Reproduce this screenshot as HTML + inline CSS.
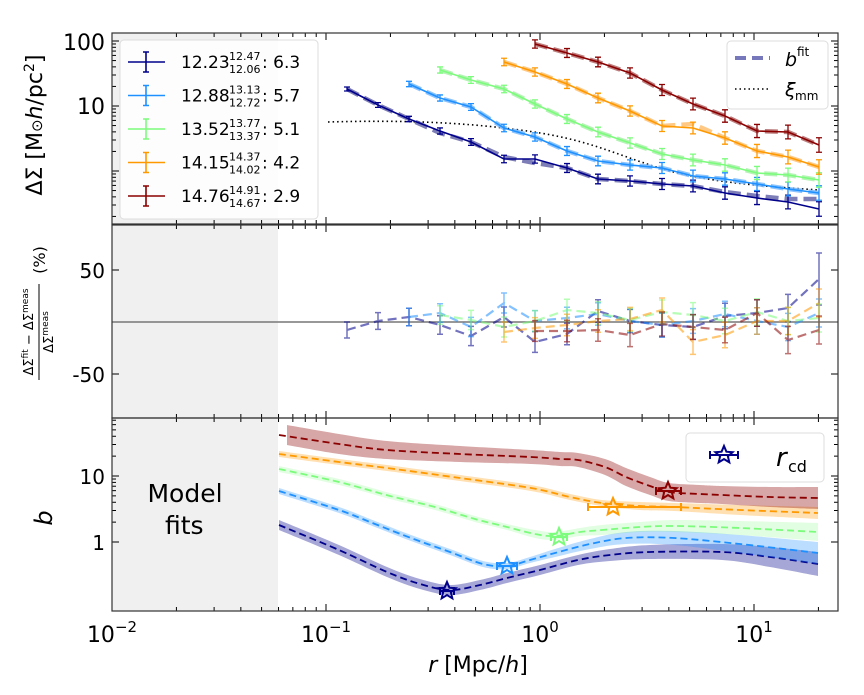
<!DOCTYPE html>
<html><head><meta charset="utf-8"><style>
body{margin:0;background:#fff}
svg{display:block;font-family:"DejaVu Sans","Liberation Sans",sans-serif}
</style></head><body>
<svg id="s" width="864" height="695" xmlns="http://www.w3.org/2000/svg"></svg>
<script>
(function(){
const s=document.getElementById('s');
let h='';
const L=112,R=838;
const X=r=>112+214*(Math.log10(r)+2);
const P=[[33,224],[225,418],[418,611]];
P.forEach(p=>{h+=`<rect x="${L}" y="${p[0]}" width="${278-L}" height="${p[1]-p[0]}" fill="#f0f0f0"/>`;});
function xticks(t,b){
 for(let d=-2;d<=1;d++)for(let m=1;m<10;m++){const x=X(m*Math.pow(10,d));if(x>R)continue;const len=m==1?7:4;
 h+=`<line x1="${x}" y1="${b}" x2="${x}" y2="${b-len}" stroke="#000" stroke-width="1"/><line x1="${x}" y1="${t}" x2="${x}" y2="${t+len}" stroke="#000" stroke-width="1"/>`;}
}
P.forEach(p=>xticks(p[0],p[1]));
const Y1=v=>106-65*(Math.log10(v)-1);
const Y3=v=>476-66*Math.log10(v);
function yt(y,len){h+=`<line x1="${L}" y1="${y}" x2="${L+len}" y2="${y}" stroke="#000"/><line x1="${R}" y1="${y}" x2="${R-len}" y2="${y}" stroke="#000"/>`;}
for(let d=-1;d<=2;d++)for(let m=1;m<10;m++){const v=m*Math.pow(10,d);let y=Y1(v);if(y>33&&y<224)yt(y,m==1?7:4);y=Y3(v);if(y>418&&y<611)yt(y,m==1?7:4);}
[270,374].forEach(y=>yt(y,7));
h+=`<line x1="${L}" y1="322" x2="${R}" y2="322" stroke="#777" stroke-width="1.5"/>`;
const cols=['#00008b','#1e90ff','#7cfc7c','#ff9900','#8b0000'];
const fcols=['#6666aa','#77b8ff','#a8f0a8','#ffbf70','#b06666'];
const xs=[347,378,409,440,471,504,535,567,598,630,662,693,725,757,788,819];
const topd=[
 [89,105,119,131,142,159,159,168,179,181,184,186,193,198,202,209],
 [null,null,84,98,107,128,137,151,161,165,168,176,179,184,189,193],
 [null,null,null,70,80,89,104,119,132,143,154,160,165,173,175,180],
 [null,null,null,null,null,62,72,84,98,111,126,128,138,151,157,167],
 [null,null,null,null,null,null,44,53,62,73,90,104,116,131,132,145]];
const fitadj=[[0,0,0,2,0,-2,4,0,0,0,0,0,-1,-2,-3,-10],[],[],[0,0,0,0,0,0,0,0,0,0,0,-4],[]];
h=`<defs><clipPath id="c1"><rect x="${L}" y="33" width="${R-L}" height="191"/></clipPath></defs>`+h;
h+=`<path d="M328,122 C400,120 460,122 520,130 S600,148 650,165 S760,186 819,190" fill="none" stroke="#000" stroke-width="1.6" stroke-dasharray="1.5,3" clip-path="url(#c1)"/>`;
topd.forEach((a,i)=>{let pf=[],pd=[];a.forEach((y,j)=>{if(y==null)return;pd.push(xs[j]+','+y);pf.push(xs[j]+','+(y+(fitadj[i][j]||0)));});
 h+=`<polyline points="${pf.join(' ')}" fill="none" stroke="${fcols[i]}" stroke-width="4.5" stroke-dasharray="13,6" opacity="0.85"/>`;
 h+=`<polyline points="${pd.join(' ')}" fill="none" stroke="${cols[i]}" stroke-width="1.6"/>`;
 a.forEach((y,j)=>{if(y==null)return;const e=2+j*0.35;h+=`<path d="M${xs[j]},${y-e}V${y+e}M${xs[j]-3},${y-e}h6M${xs[j]-3},${y+e}h6" stroke="${cols[i]}" stroke-width="1.3"/>`;});
});
const res=[
 [330,321,317,325,336,317,342,334,311,321,325,327,316,313,308,279],
 [null,null,317,313,327,303,321,318,314,321,325,321,314,321,327,313],
 [null,null,null,315,320,327,321,310,313,320,312,315,321,312,321,318],
 [null,null,null,null,null,332,328,325,321,319,310,342,335,321,321,303],
 [null,null,null,null,null,null,331,331,330,335,324,327,330,313,340,330]];
res.forEach((a,i)=>{let p=[];a.forEach((y,j)=>{if(y==null)return;p.push(xs[j]+','+y);});
 h+=`<g opacity="0.55"><polyline points="${p.join(' ')}" fill="none" stroke="${cols[i]}" stroke-width="2.2" stroke-dasharray="9,5"/>`;
 a.forEach((y,j)=>{if(y==null)return;const e=(j==15&&i==0)?26:(8+j*0.4);h+=`<path d="M${xs[j]},${y-e}V${y+e}M${xs[j]-3},${y-e}h6M${xs[j]-3},${y+e}h6" stroke="${cols[i]}" stroke-width="1.5"/>`;});
 h+='</g>';});
const c3=[
 {p:[[279,525],[339,550],[387,572],[420,584],[450,590],[480,585],[507,578],[540,570],[578,560],[610,555],[650,552],[722,552],[770,557],[818,564]],w:[5,5,5,5,5,5,5,5,5,6,7,8,10,12]},
 {p:[[279,491],[339,510],[375,524],[411,538],[450,552],[483,564],[507,566],[530,560],[555,553],[590,544],[626,538],[674,538],[740,544],[818,553]],w:[3,3,3,3,3,3,3,3,4,5,6,7,9,11]},
 {p:[[279,469],[339,482],[390,496],[435,507],[475,519],[507,527],[535,534],[555,536],[580,532],[602,530],[640,527],[674,526],[740,528],[818,532]],w:[3,3,3,3,3,3,4,4,4,5,5,6,7,9]},
 {p:[[279,454],[339,462],[387,468],[460,478],[531,488],[570,497],[602,503],[640,506],[674,507],[740,510],[818,513]],w:[3,3,3,3,3,3,3,4,4,5,6]},
 {p:[[279,435],[339,444],[387,450],[460,454],[531,457],[560,459],[578,460],[605,467],[626,477],[650,486],[669,492],[700,494],[722,495],[770,497],[818,498]],w:[10,10,9,8,7,7,7,8,9,9,9,9,9,10,11]}];
function segs(pts){let d='';for(let i=1;i<pts.length;i++){const p0=pts[i-2]||pts[i-1],p1=pts[i-1],p2=pts[i],p3=pts[i+1]||p2;
 d+=` C${p1[0]+(p2[0]-p0[0])/6},${p1[1]+(p2[1]-p0[1])/6} ${p2[0]-(p3[0]-p1[0])/6},${p2[1]-(p3[1]-p1[1])/6} ${p2[0]},${p2[1]}`;}return d;}
function smooth(pts){return 'M'+pts[0][0]+','+pts[0][1]+segs(pts);}
const op=[0.35,0.3,0.22,0.3,0.35];
c3.forEach((c,i)=>{const off=(k)=>(i==4&&k==0?8:0);
 const up=c.p.map((q,k)=>[q[0]+off(k),q[1]-c.w[k]]),dn=c.p.map((q,k)=>[q[0]+off(k),q[1]+c.w[k]]).reverse();
 const d=smooth(up)+' L'+dn[0][0]+','+dn[0][1]+segs(dn)+' Z';
 h+=`<path d="${d}" fill="${cols[i]}" opacity="${op[i]}"/>`;
 h+=`<path d="${smooth(c.p)}" fill="none" stroke="${cols[i]}" stroke-width="1.8" stroke-dasharray="7,4"/>`;});
function star(cx,cy,r,col){let p=[];for(let k=0;k<10;k++){const a=-Math.PI/2+k*Math.PI/5,rr=k%2?r*0.45:r;p.push((cx+rr*Math.cos(a)).toFixed(1)+','+(cy+rr*Math.sin(a)).toFixed(1));}
 return `<polygon points="${p.join(' ')}" fill="none" stroke="${col}" stroke-width="2"/>`;}
const stars=[[447,591,440,454],[507,566,497,517],[559,537,551,567],[613,507,588,681],[668,491,656,681]];
stars.forEach((q,i)=>{h+=`<path d="M${q[2]},${q[1]}H${q[3]}M${q[2]},${q[1]-4}v8M${q[3]},${q[1]-4}v8" stroke="${cols[i]}" stroke-width="2"/>`+star(q[0],q[1],9,cols[i]);});
P.forEach(p=>{h+=`<rect x="${L}" y="${p[0]}" width="${R-L}" height="${p[1]-p[0]}" fill="none" stroke="#333" stroke-width="1.2"/>`;});
h+=`<rect x="120" y="40" width="198" height="179" rx="4" fill="#fff" fill-opacity="0.85" stroke="#ddd"/>`;
const lab=[['12.23','12.47','12.06','6.3'],['12.88','13.13','12.72','5.7'],['13.52','13.77','13.37','5.1'],['14.15','14.37','14.02','4.2'],['14.76','14.91','14.67','2.9']];
lab.forEach((l,i)=>{const y=62+i*33.5;h+=`<path d="M128,${y}H165M146,${y-10}V${y+10}M143,${y-10}h6M143,${y+10}h6" stroke="${cols[i]}" stroke-width="1.6"/>`;
 h+=`<text x="181" y="${y+6}" font-size="17">${l[0]}</text><text x="229" y="${y-2}" font-size="11">${l[1]}</text><text x="229" y="${y+11}" font-size="11">${l[2]}</text><text x="262" y="${y+6}" font-size="17">: ${l[3]}</text>`;});
h+=`<rect x="727" y="41" width="101" height="68" rx="4" fill="#fff" fill-opacity="0.85" stroke="#ddd"/>`;
h+=`<path d="M735,58H770" stroke="#7777bb" stroke-width="4" stroke-dasharray="11,6"/><path d="M735,89H770" stroke="#000" stroke-width="1.6" stroke-dasharray="1.5,3"/>`;
h+=`<text x="785" y="66" font-size="19" font-style="italic">b</text><text x="797" y="56" font-size="12">fit</text>`;
h+=`<text x="785" y="96" font-size="19" font-style="italic">ξ</text><text x="795" y="100" font-size="12">mm</text>`;
h+=`<rect x="686" y="433" width="138" height="49" rx="4" fill="#fff" stroke="#ddd"/>`;
h+=`<path d="M710,455H738M710,451v8M738,451v8" stroke="#00008b" stroke-width="2"/>`+star(724,455,9,'#00008b');
h+=`<text x="776" y="466" font-size="26" font-style="italic">r</text><text x="788" y="472" font-size="16">cd</text>`;
h+=`<text x="185" y="502" font-size="25" text-anchor="middle">Model</text><text x="165" y="534" font-size="25">fits</text>`;
h+=`<text x="105" y="50" font-size="22" text-anchor="end">100</text><text x="105" y="114" font-size="22" text-anchor="end">10</text>`;
h+=`<text x="105" y="278" font-size="20" text-anchor="end">50</text><text x="105" y="382" font-size="20" text-anchor="end">-50</text>`;
h+=`<text x="105" y="484" font-size="20" text-anchor="end">10</text><text x="105" y="550" font-size="20" text-anchor="end">1</text>`;
[[-2,112],[-1,326],[0,540],[1,754]].forEach(t=>{h+=`<text x="${t[1]}" y="642" font-size="22" text-anchor="middle">10<tspan dy="-10" font-size="15">${t[0]<0?'−'+(-t[0]):t[0]}</tspan></text>`;});
h+=`<text x="478" y="672" font-size="22" text-anchor="middle"><tspan font-style="italic">r</tspan> [Mpc/<tspan font-style="italic">h</tspan>]</text>`;
h+=`<text transform="translate(42,125) rotate(-90)" font-size="22" text-anchor="middle">ΔΣ [M<tspan font-size="15">⊙</tspan><tspan font-style="italic">h</tspan>/pc<tspan dy="-8" font-size="14">2</tspan><tspan dy="8">]</tspan></text>`;
h+=`<text transform="translate(52,518) rotate(-90)" font-size="24" font-style="italic" text-anchor="middle">b</text>`;
h+=`<g transform="translate(40,322) rotate(-90)" font-size="13" text-anchor="middle"><text x="-10" y="-7">ΔΣ<tspan dy="-5" font-size="9">fit</tspan><tspan dy="5"> − ΔΣ</tspan><tspan dy="-5" font-size="9">meas</tspan></text><line x1="-58" y1="-1" x2="38" y2="-1" stroke="#000"/><text x="-10" y="13">ΔΣ<tspan dy="-5" font-size="9">meas</tspan></text><text x="62" y="5" font-size="16">(%)</text></g>`;
s.innerHTML=h;
})();
</script>
</body></html>
